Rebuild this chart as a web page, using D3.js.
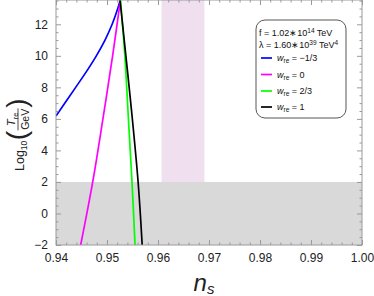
<!DOCTYPE html>
<html><head><meta charset="utf-8">
<script src="https://cdn.jsdelivr.net/npm/d3@7"></script>
<style>
body{margin:0;background:#fff;}
svg{display:block;font-family:"Liberation Sans",Arial,sans-serif;}
</style></head>
<body><svg id="c" width="374" height="296"></svg>
<script>
// ---- data ----
const xTicks = [0.94, 0.95, 0.96, 0.97, 0.98, 0.99, 1.00];
const xTickLabels = ["0.94", "0.95", "0.96", "0.97", "0.98", "0.99", "1.00"];
const yTicks = [-2, 0, 2, 4, 6, 8, 10, 12];
const yTickLabels = ["\u22122", "0", "2", "4", "6", "8", "10", "12"];

const blueNs  = [0.9400, 0.94386, 0.94596, 0.94791, 0.94961, 0.95101, 0.95211, 0.95274];
const blueLog = [6.18, 8.0, 9.0, 10.0, 11.0, 12.0, 13.0, 13.7];
const magNs   = [0.94484, 0.9472, 0.9492, 0.9511, 0.9527];
const magLog  = [-2, 2, 6, 10, 13.7];
const greenNs = [0.9526, 0.9535, 0.9542, 0.9549, 0.9555];
const greenLog= [13.7, 10, 6, 2, -2];
const blackNs = [0.9525, 0.9537, 0.9548, 0.9561, 0.9569];
const blackLog= [13.7, 10, 6.56, 2, -2];

const seriesNames = ["= \u22121/3", "= 0", "= 2/3", "= 1"];
const seriesColors = ["#0000ff", "#ff00ff", "#00ff00", "#000000"];

const bbnBand = [-2, 2];          // gray excluded region
const planckBand = [0.9607, 0.9691]; // pink ns band

// ---- layout ----
const svg = d3.select("#c");
const L = 56, R = 362, T = 0, B = 245;
const x = d3.scaleLinear().domain([0.94, 1.00]).range([L, R]);
const y = d3.scaleLinear().domain([-2, 12]).range([B, 24.3]);
const yTop = y.invert(T);

svg.append("defs").append("clipPath").attr("id", "clip")
  .append("rect").attr("x", L).attr("y", T).attr("width", R - L).attr("height", B - T);

const plot = svg.append("g").attr("clip-path", "url(#clip)");
plot.append("rect").attr("x", x(planckBand[0])).attr("width", x(planckBand[1]) - x(planckBand[0]))
  .attr("y", y(yTop)).attr("height", y(bbnBand[1]) - y(yTop)).attr("fill", "#efdfef");
plot.append("rect").attr("x", L).attr("width", R - L)
  .attr("y", y(bbnBand[1])).attr("height", y(bbnBand[0]) - y(bbnBand[1])).attr("fill", "#d9d9d9");

const line = d3.line().x(d => x(d[0])).y(d => y(d[1])).curve(d3.curveCatmullRom.alpha(0.5));
const series = [
  [blueNs, blueLog], [magNs, magLog], [greenNs, greenLog], [blackNs, blackLog]
];
series.forEach((s, i) => {
  const pts = s[0].map((v, j) => [v, s[1][j]]);
  plot.append("path").attr("d", line(pts)).attr("fill", "none")
    .attr("stroke", seriesColors[i]).attr("stroke-width", 1.7);
});

// ---- frame & ticks ----
const frameCol = "#9a9a9a";
const axB = d3.axisBottom(x).tickValues(xTicks).tickFormat((d, i) => xTickLabels[i]).tickSizeInner(-5).tickSizeOuter(0).tickPadding(8);
const axT = d3.axisTop(x).tickValues(xTicks).tickFormat("").tickSizeInner(-5).tickSizeOuter(0);
const axL = d3.axisLeft(y).tickValues(yTicks).tickFormat((d, i) => yTickLabels[i]).tickSizeInner(-5).tickSizeOuter(0).tickPadding(8);
const axR = d3.axisRight(y).tickValues(yTicks).tickFormat("").tickSizeInner(-5).tickSizeOuter(0);
const xMinor = d3.range(0.94, 1.0001, 0.002).filter(v => Math.abs(v * 100 - Math.round(v * 100)) > 1e-6);
const yMinor = d3.range(-2, yTop, 0.5).filter(v => Math.abs(v / 2 - Math.round(v / 2)) > 1e-6);
const mB = d3.axisBottom(x).tickValues(xMinor).tickFormat("").tickSizeInner(-2.5).tickSizeOuter(0);
const mT = d3.axisTop(x).tickValues(xMinor).tickFormat("").tickSizeInner(-2.5).tickSizeOuter(0);
const mL = d3.axisLeft(y).tickValues(yMinor).tickFormat("").tickSizeInner(-2.5).tickSizeOuter(0);
const mR = d3.axisRight(y).tickValues(yMinor).tickFormat("").tickSizeInner(-2.5).tickSizeOuter(0);

function style(g) {
  g.select(".domain").remove();
  g.selectAll(".tick line").attr("stroke", frameCol).attr("stroke-width", 1);
  g.selectAll(".tick text").attr("fill", "#222").attr("font-size", 12).attr("font-family", "Liberation Sans, Arial, sans-serif");
}
svg.append("g").attr("transform", `translate(0,${B})`).call(axB).call(style);
svg.append("g").attr("transform", `translate(0,${B})`).call(mB).call(style);
svg.append("g").attr("transform", `translate(0,${T})`).call(axT).call(style);
svg.append("g").attr("transform", `translate(0,${T})`).call(mT).call(style);
svg.append("g").attr("transform", `translate(${L},0)`).call(axL).call(style);
svg.append("g").attr("transform", `translate(${L},0)`).call(mL).call(style);
svg.append("g").attr("transform", `translate(${R},0)`).call(axR).call(style);
svg.append("g").attr("transform", `translate(${R},0)`).call(mR).call(style);
svg.append("rect").attr("x", L).attr("y", T).attr("width", R - L).attr("height", B - T)
  .attr("fill", "none").attr("stroke", frameCol).attr("stroke-width", 1);

// ---- axis titles ----
const xt = svg.append("text").attr("x", 204).attr("y", 291).attr("text-anchor", "middle")
  .attr("font-size", 24).attr("fill", "#222").attr("font-style", "italic");
xt.append("tspan").text("n");
xt.append("tspan").attr("font-size", 15).attr("dy", 3).text("s");

// y label, rotated
const yl = svg.append("g").attr("transform", "rotate(-90)");
let u = -171;
const tLog = yl.append("text").attr("x", u).attr("y", 24).attr("font-size", 12.5).attr("fill", "#222").text("Log");
u += tLog.node().getComputedTextLength();
const tSub = yl.append("text").attr("x", u).attr("y", 27).attr("font-size", 8.5).attr("fill", "#222").text("10");
u += tSub.node().getComputedTextLength() + 0.5;
const tP1 = yl.append("text").attr("x", u).attr("y", 26).attr("font-size", 28).attr("fill", "#222").text("(");
u += tP1.node().getComputedTextLength() + 0.5;
const fracStart = u;
const gev = yl.append("text").attr("y", 28.5).attr("font-size", 10.5).attr("fill", "#222").text("GeV");
const gevW = gev.node().getComputedTextLength();
const num = yl.append("text").attr("y", 15).attr("font-size", 11.5).attr("fill", "#222");
num.append("tspan").attr("font-style", "italic").text("T");
num.append("tspan").attr("font-size", 7.5).attr("dy", 2.5).text("re");
const numW = num.node().getComputedTextLength();
const fw = Math.max(gevW, numW) + 1;
gev.attr("x", fracStart + (fw - gevW) / 2);
num.attr("x", fracStart + (fw - numW) / 2);
yl.append("line").attr("x1", fracStart).attr("x2", fracStart + fw).attr("y1", 18).attr("y2", 18)
  .attr("stroke", "#222").attr("stroke-width", 0.8);
u = fracStart + fw + 0.5;
yl.append("text").attr("x", u).attr("y", 26).attr("font-size", 28).attr("fill", "#222").text(")");

// ---- legend ----
const lg = svg.append("g");
lg.append("rect").attr("x", 256).attr("y", 20).attr("width", 90).attr("height", 98)
  .attr("rx", 9).attr("ry", 9).attr("fill", "#fff").attr("stroke", "#444").attr("stroke-width", 0.9);
const f1 = lg.append("text").attr("x", 259).attr("y", 36).attr("font-size", 9).attr("fill", "#111");
f1.append("tspan").text("f = 1.02\u221710");
f1.append("tspan").attr("font-size", 6.5).attr("dy", -3.5).text("14");
f1.append("tspan").attr("dy", 3.5).text(" TeV");
const f2 = lg.append("text").attr("x", 259).attr("y", 48).attr("font-size", 9).attr("fill", "#111");
f2.append("tspan").text("\u03bb = 1.60\u221710");
f2.append("tspan").attr("font-size", 6.5).attr("dy", -3.5).text("39");
f2.append("tspan").attr("dy", 3.5).text(" TeV");
f2.append("tspan").attr("font-size", 6.5).attr("dy", -3.5).text("4");
const rowY = [58, 74.5, 91, 107];
seriesNames.forEach((nm, i) => {
  lg.append("line").attr("x1", 261).attr("x2", 272).attr("y1", rowY[i]).attr("y2", rowY[i])
    .attr("stroke", seriesColors[i]).attr("stroke-width", 1.7);
  const t = lg.append("text").attr("x", 277).attr("y", rowY[i] + 3.2).attr("font-size", 9).attr("fill", "#111");
  t.append("tspan").attr("font-style", "italic").text("w");
  t.append("tspan").attr("font-size", 6.5).attr("dy", 2).text("re");
  t.append("tspan").attr("dy", -2).text(" " + nm);
});
</script>
</body></html>
